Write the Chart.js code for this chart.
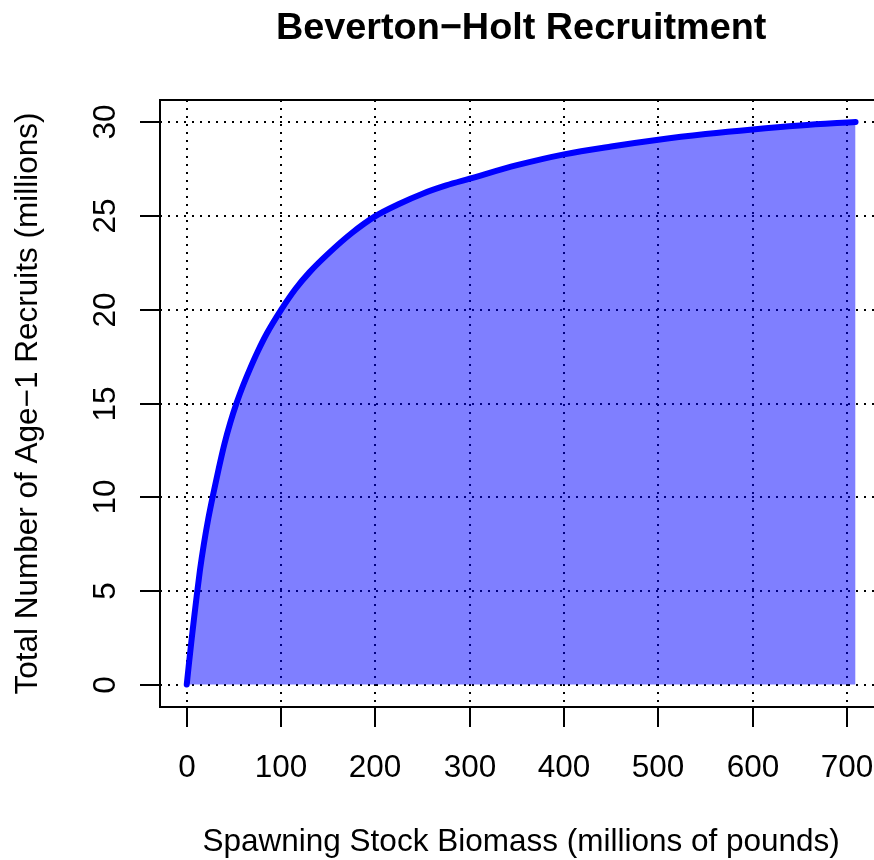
<!DOCTYPE html>
<html>
<head>
<meta charset="utf-8">
<script src="https://cdn.jsdelivr.net/npm/chart.js@4/dist/chart.umd.min.js"></script>
<style>
  html, body { margin: 0; padding: 0; background: #fff; }
  #wrap { width: 874px; height: 860px; overflow: hidden; position: relative; }
  canvas { display: block; }
</style>
</head>
<body>
<div id="wrap"><canvas id="bhChart" width="890" height="860"></canvas></div>
<script>
// values
var spawnStock = [0, 2, 5, 8, 10.6, 14, 18, 23, 28, 34, 40, 46, 53, 60, 67, 75, 85, 100,
                  115, 130, 150, 175, 200, 225, 250, 275, 300, 350, 400, 450, 500, 550, 600, 650, 709];
var recruits   = [0, 0.96, 2.34, 3.65, 4.75, 6.1, 7.45, 8.9, 10.15, 11.55, 12.85, 13.95, 15.05, 16.0, 16.85, 17.75, 18.75, 20.0,
                  21.1, 22.0, 23.0, 24.1, 25.0, 25.65, 26.2, 26.64, 27.0, 27.72, 28.3, 28.72, 29.08, 29.38, 29.63, 29.84, 30.03];
var xTicks = [0, 100, 200, 300, 400, 500, 600, 700];
var yTicks = [0, 5, 10, 15, 20, 25, 30];

var FONT = '"Liberation Sans", Arial, Helvetica, sans-serif';

var points = spawnStock.map(function (s, i) { return { x: s, y: recruits[i] }; });

// R-style frame, dotted grid, ticks and labels
var rStyle = {
  id: 'rStyle',
  beforeDatasetsDraw: function (chart) {
    var ctx = chart.ctx, a = chart.chartArea;
    var xs = chart.scales.x, ys = chart.scales.y;
    ctx.save();
    ctx.strokeStyle = '#000';
    ctx.lineWidth = 2;
    ctx.setLineDash([2, 6]);
    xTicks.forEach(function (v) {
      var px = Math.round(xs.getPixelForValue(v));
      ctx.beginPath(); ctx.moveTo(px, a.top); ctx.lineTo(px, a.bottom); ctx.stroke();
    });
    yTicks.forEach(function (v) {
      var py = Math.round(ys.getPixelForValue(v));
      ctx.beginPath(); ctx.moveTo(a.left, py); ctx.lineTo(a.right, py); ctx.stroke();
    });
    ctx.restore();
  },
  afterDatasetsDraw: function (chart) {
    var ctx = chart.ctx, a = chart.chartArea;
    var xs = chart.scales.x, ys = chart.scales.y;
    ctx.save();
    ctx.strokeStyle = '#000';
    ctx.lineWidth = 2;
    ctx.strokeRect(a.left, a.top, a.right - a.left, a.bottom - a.top);

    ctx.fillStyle = '#000';
    ctx.font = '31.5px ' + FONT;
    ctx.textAlign = 'center';
    ctx.textBaseline = 'alphabetic';
    xTicks.forEach(function (v) {
      var px = Math.round(xs.getPixelForValue(v));
      ctx.beginPath(); ctx.moveTo(px, a.bottom); ctx.lineTo(px, a.bottom + 20); ctx.stroke();
      ctx.fillText(String(v), px, 777);
    });
    yTicks.forEach(function (v) {
      var py = Math.round(ys.getPixelForValue(v));
      ctx.beginPath(); ctx.moveTo(a.left, py); ctx.lineTo(a.left - 20, py); ctx.stroke();
      ctx.save();
      ctx.translate(115, py);
      ctx.rotate(-Math.PI / 2);
      ctx.fillText(String(v), 0, 0);
      ctx.restore();
    });

    var cx = (a.left + a.right) / 2, cy = (a.top + a.bottom) / 2;
    ctx.fillText('Spawning Stock Biomass (millions of pounds)', cx, 851);
    ctx.save();
    ctx.translate(37, cy);
    ctx.rotate(-Math.PI / 2);
    ctx.fillText('Total Number of Age\u22121 Recruits (millions)', 0, 0);
    ctx.restore();

    ctx.font = 'bold 37.8px ' + FONT;
    ctx.fillText('Beverton\u2212Holt Recruitment', cx, 39);
    ctx.restore();
  }
};

var ctx = document.getElementById('bhChart');
var bhChart = new Chart(ctx, {
  type: 'line',
  data: {
    datasets: [{
      label: 'Recruits',
      data: points,
      borderColor: '#0000ff',
      backgroundColor: 'rgba(0, 0, 255, 0.5)',
      borderWidth: 6,
      borderCapStyle: 'round',
      borderJoinStyle: 'round',
      fill: 'origin',
      pointRadius: 0,
      cubicInterpolationMode: 'monotone'
    }]
  },
  options: {
    responsive: false,
    animation: false,
    events: [],
    layout: { padding: { left: 160, top: 100, right: 7.7, bottom: 153 } },
    scales: {
      x: { type: 'linear', min: -28.36, max: 737.36, display: false },
      y: { type: 'linear', min: -1.2, max: 31.2, display: false }
    },
    plugins: {
      legend: { display: false },
      title: { display: false },
      tooltip: { enabled: false }
    }
  },
  plugins: [rStyle]
});
</script>
</body>
</html>
